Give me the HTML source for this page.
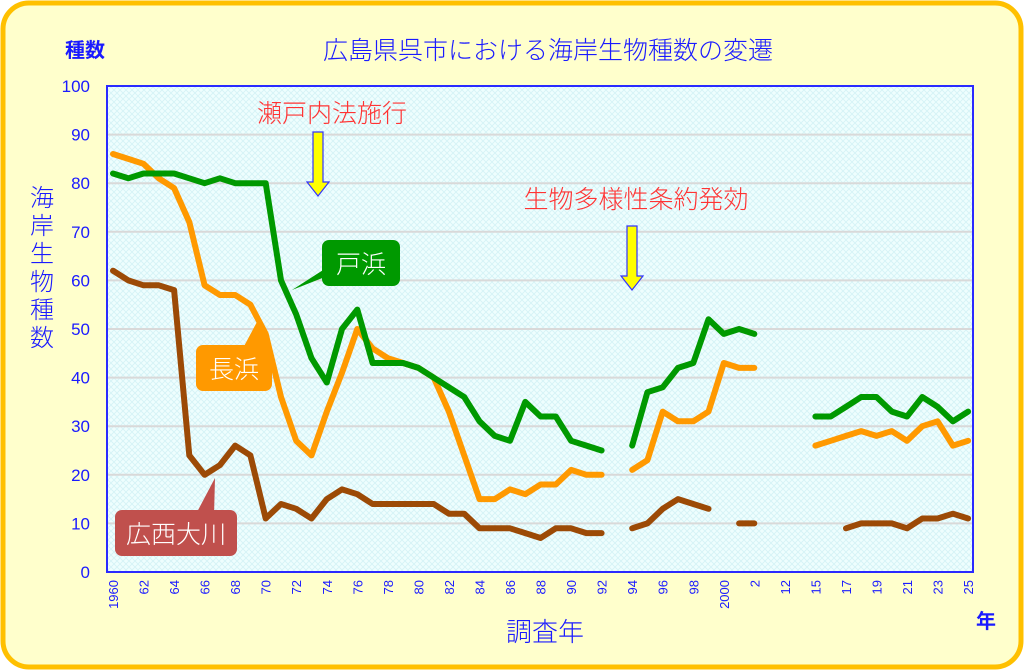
<!DOCTYPE html>
<html><head><meta charset="utf-8"><style>
html,body{margin:0;padding:0;background:#fff;}
svg{display:block;font-family:"Liberation Sans","Noto Sans CJK JP",sans-serif;}
</style></head><body>
<svg id="s" width="1024" height="670" viewBox="0 0 1024 670" xmlns="http://www.w3.org/2000/svg">
<defs>
<pattern id="p" width="6" height="6" patternUnits="userSpaceOnUse">
<rect width="6" height="6" fill="#eefefe"/>
<path d="M0 0L6 6M6 0L0 6" stroke="#d4f2f6" stroke-width="0.8"/>
</pattern>
</defs>
<rect x="3" y="3" width="1018" height="664" rx="26" fill="#ffffcc" stroke="#ffc000" stroke-width="5"/>
<rect x="107" y="86" width="866" height="486" fill="url(#p)" stroke="#2a2aff" stroke-width="2"/>
<g id="grid" stroke="#d9d9d9" stroke-width="2"></g>
<g id="ylab" fill="#1a1aff" font-size="17" text-anchor="end"></g>
<g id="xlab" fill="#1a1aff" font-size="13"></g>
<text x="85" y="57" fill="#1a1aff" font-size="20" font-weight="bold" text-anchor="middle">種数</text>
<text x="548" y="59" fill="#1a1aff" font-size="25" font-weight="300" text-anchor="middle">広島県呉市における海岸生物種数の変遷</text>
<g fill="#1a1aff" font-size="24" font-weight="300" text-anchor="middle">
<text x="42" y="206">海</text><text x="42" y="234">岸</text><text x="42" y="262">生</text><text x="42" y="290">物</text><text x="42" y="318">種</text><text x="42" y="346">数</text>
</g>
<text x="545" y="641" fill="#1a1aff" font-size="26" font-weight="300" text-anchor="middle">調査年</text>
<text x="986" y="628" fill="#1a1aff" font-size="20" font-weight="bold" text-anchor="middle">年</text>
<text x="332" y="122" fill="#ff3333" font-size="25" font-weight="300" text-anchor="middle">瀬戸内法施行</text>
<path d="M313 132h10v50h6l-11 14l-11-14h6z" fill="#ffff00" stroke="#3333ff" stroke-width="1.2"/>
<text x="636" y="208" fill="#ff3333" font-size="25" font-weight="300" text-anchor="middle">生物多様性条約発効</text>
<path d="M627 226h10v50h6l-11 14l-11-14h6z" fill="#ffff00" stroke="#3333ff" stroke-width="1.2"/>
<g id="lines" fill="none" stroke-width="6" stroke-linejoin="round" stroke-linecap="round"></g>
<path d="M330 275L292 290L334 263z" fill="#009900"/>
<rect x="322" y="240" width="78" height="46" rx="7" fill="#009900"/>
<text x="361" y="273" fill="#fff" font-size="25" font-weight="300" text-anchor="middle">戸浜</text>
<path d="M242 350L258 320L270 352z" fill="#ff9900"/>
<rect x="196" y="345" width="76" height="46" rx="7" fill="#ff9900"/>
<text x="234" y="378" fill="#fff" font-size="25" font-weight="300" text-anchor="middle">長浜</text>
<path d="M196 514L215 478L214 516z" fill="#c0504d"/>
<rect x="115" y="510" width="122" height="46" rx="7" fill="#c0504d"/>
<text x="176" y="543" fill="#fff" font-size="25" font-weight="300" text-anchor="middle">広西大川</text>
</svg>
<script>
var ns="http://www.w3.org/2000/svg";
function Y(v){return 572-4.86*v;}
function X(i){return 113+15.27*i;}
var g=document.getElementById("grid"),yl=document.getElementById("ylab"),xl=document.getElementById("xlab");
for(var v=0;v<=100;v+=10){
 if(v>0&&v<100){var l=document.createElementNS(ns,"line");l.setAttribute("x1",108);l.setAttribute("x2",972);l.setAttribute("y1",Y(v));l.setAttribute("y2",Y(v));g.appendChild(l);}
 var t=document.createElementNS(ns,"text");t.setAttribute("x",90);t.setAttribute("y",Y(v)+6);t.textContent=v;yl.appendChild(t);
}
var labs=[[0,"1960"],[2,"62"],[4,"64"],[6,"66"],[8,"68"],[10,"70"],[12,"72"],[14,"74"],[16,"76"],[18,"78"],[20,"80"],[22,"82"],[24,"84"],[26,"86"],[28,"88"],[30,"90"],[32,"92"],[34,"94"],[36,"96"],[38,"98"],[40,"2000"],[42,"2"],[44,"12"],[46,"15"],[48,"17"],[50,"19"],[52,"21"],[54,"23"],[56,"25"]];
labs.forEach(function(a){var t=document.createElementNS(ns,"text");var x=X(a[0])+5,y=580;t.setAttribute("transform","translate("+x+","+y+") rotate(-90)");t.setAttribute("text-anchor","end");t.textContent=a[1];xl.appendChild(t);});
function yi(y){return y>=2012?(y===2012?44:y-2015+46):y-1960;}
var N=null;
var green={1960:[82,81,82,82,82,81,80,81,80,80,80,60,53,44,39,50,54,43,43,43,42,40,38,36,31,28,27,35,32,32,27,26,25,N,26,37,38,42,43,52,49,50,49],2015:[32,32,34,36,36,33,32,36,34,31,33]};
var orange={1960:[86,85,84,81,79,72,59,57,57,55,49,36,27,24,33,41,50,46,44,43,42,40,33,24,15,15,17,16,18,18,21,20,20,N,21,23,33,31,31,33,43,42,42],2015:[26,27,28,29,28,29,27,30,31,26,27]};
var brown={1960:[62,60,59,59,58,24,20,22,26,24,11,14,13,11,15,17,16,14,14,14,14,14,12,12,9,9,9,8,7,9,9,8,8,N,9,10,13,15,14,13,N,10,10],2015:[N,N,9,10,10,10,9,11,11,12,11]};
var L=document.getElementById("lines");
function draw(d,c){
 [1960,2015].forEach(function(st){
  var arr=d[st],seg=[];
  function flush(){if(seg.length>1){var p=document.createElementNS(ns,"polyline");p.setAttribute("points",seg.join(" "));p.setAttribute("stroke",c);L.appendChild(p);}seg=[];}
  arr.forEach(function(v,k){var i=yi(st+k);if(v===null){flush();return;}seg.push(X(i).toFixed(1)+","+Y(v).toFixed(1));});
  flush();
 });
}
draw(brown,"#9c4a06");draw(orange,"#ff9900");draw(green,"#009900");
</script>
</body></html>
